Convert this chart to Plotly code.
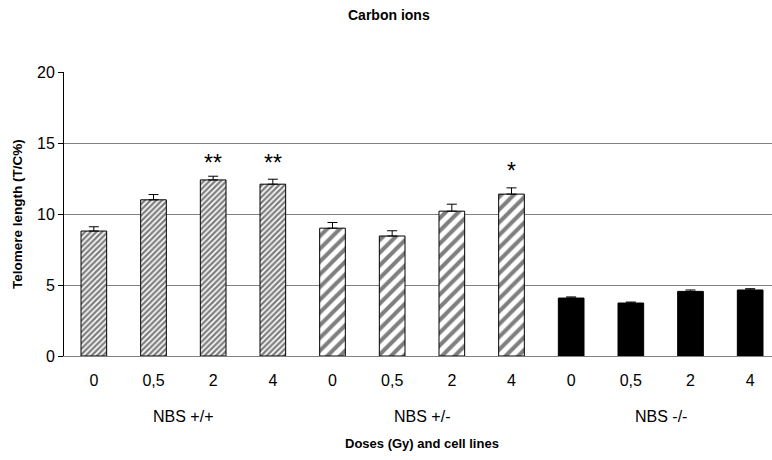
import plotly.graph_objects as go

doses = ["0", "0,5", "2", "4"]
groups = ["NBS +/+", "NBS +/-", "NBS -/-"]
values_pp = [8.8, 11.0, 12.4, 12.1]
errors_pp = [0.3, 0.37, 0.26, 0.35]
values_pm = [9.0, 8.45, 10.2, 11.4]
errors_pm = [0.4, 0.37, 0.49, 0.44]
values_mm = [4.08, 3.73, 4.55, 4.65]
errors_mm = [0.08, 0.07, 0.1, 0.09]
stars = [(2, "**", 13.6), (3, "**", 13.6), (7, "*", 13.0)]

FONT = "Liberation Sans, Arial, sans-serif"
n = len(doses)
fig = go.Figure()

def add_group(gi, vals, errs, color, pattern):
    xs = [gi * n + i for i in range(n)]
    fig.add_trace(go.Bar(
        x=xs, y=vals, width=0.43,
        marker=dict(color=color, line=dict(color="black", width=1), pattern=pattern),
        error_y=dict(type="data", array=errs, arrayminus=[0] * len(errs), symmetric=False,
                     color="black", thickness=1, width=5),
        showlegend=False, hoverinfo="skip",
    ))

add_group(0, values_pp, errors_pp, "white", dict(shape="/", size=4, solidity=0.6, fgcolor="black", bgcolor="white"))
add_group(1, values_pm, errors_pm, "white", dict(shape="/", size=9, solidity=0.45, fgcolor="black", bgcolor="white"))
add_group(2, values_mm, errors_mm, "black", None)

ann = []
for x, t, y in stars:
    ann.append(dict(x=x, y=y, xref="x", yref="y", text=t, showarrow=False,
                    font=dict(family=FONT, size=23, color="black"), yanchor="middle"))
plot_h = 356 - 72
for gi, g in enumerate(groups):
    ann.append(dict(x=gi * n + 1.5, y=-(416 - 356) / plot_h, xref="x", yref="paper", text=g,
                    showarrow=False, font=dict(family=FONT, size=16, color="black"), yanchor="middle"))
ann.append(dict(x=5.5, y=-(443 - 356) / plot_h, xref="x", yref="paper", text="<b>Doses (Gy) and cell lines</b>",
                showarrow=False, font=dict(family=FONT, size=13, color="black"), yanchor="middle"))
ann.append(dict(x=(17 - 64) / 708, y=0.5, xref="paper", yref="paper", text="<b>Telomere length (T/C%)</b>",
                showarrow=False, textangle=-90, font=dict(family=FONT, size=13.5, color="black"),
                xanchor="center", yanchor="middle"))
ann.append(dict(x=(389 - 64) / 708, y=1 + (72 - 15) / plot_h, xref="paper", yref="paper",
                text="<b>Carbon ions</b>", showarrow=False,
                font=dict(family=FONT, size=14, color="black"), xanchor="center", yanchor="middle"))

fig.update_layout(
    width=772, height=460,
    margin=dict(l=64, r=0, t=72, b=104),
    paper_bgcolor="white", plot_bgcolor="white",
    annotations=ann,
    xaxis=dict(range=[-0.5, 11.5 - 8 / 59.65], tickmode="array",
               tickvals=list(range(12)), ticktext=doses * 3,
               showline=True, linecolor="#808080", linewidth=1, ticks="",
               ticklabelstandoff=10,
               showgrid=False, zeroline=False,
               tickfont=dict(family=FONT, size=16, color="black")),
    yaxis=dict(range=[0, 20], tickvals=[0, 5, 10, 15, 20],
               showline=True, linecolor="black", linewidth=1,
               ticks="outside", ticklen=5, tickcolor="black",
               showgrid=True, gridcolor="#808080", gridwidth=1, zeroline=False,
               tickfont=dict(family=FONT, size=16, color="black")),
    bargap=0.5,
)

fig.write_html("out.html")
